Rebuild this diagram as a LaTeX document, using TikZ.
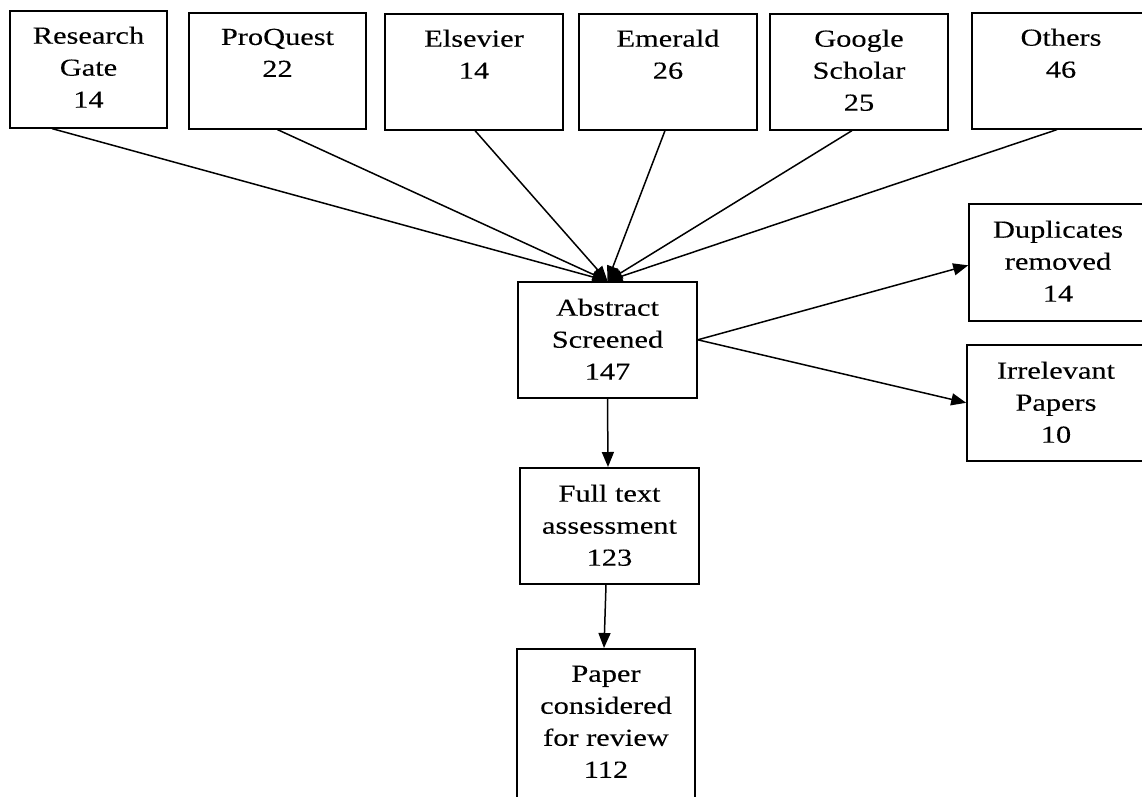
\documentclass[tikz,border=0pt]{standalone}
\usepackage{fontspec}
\setmainfont{Liberation Serif}[FakeStretch=1.24,FakeBold=0.2]
\usetikzlibrary{arrows.meta}
\begin{document}
\begin{tikzpicture}[x=1pt,y=-1pt,
  box/.style={draw, line width=1.6pt, inner sep=0pt, anchor=north, minimum width=178pt, minimum height=116pt},
  txt/.style={anchor=north, inner sep=0pt, align=center, font=\fontsize{24.5}{32}\selectfont},
  arr/.style={line width=1.5pt, -{Triangle[length=15pt,width=12pt]}}]
\useasboundingbox (0,0) rectangle (1142,796);
\clip (0,0) rectangle (1142,796);
% top row
\node[box, minimum width=157pt, minimum height=117pt] (rg) at (88.5,10) {};
\node[box, minimum width=177pt] (pq) at (277.5,12) {};
\node[box] (el) at (474,13) {};
\node[box] (em) at (668,13) {};
\node[box] (gs) at (859,13) {};
\node[box] (ot) at (1061,12) {};
% middle
\node[box, minimum width=179pt] (abs) at (607.5,281) {};
\node[box, minimum height=117pt] (dup) at (1058,203) {};
\node[box] (irr) at (1056,344) {};
\node[box, minimum width=179pt] (full) at (609.5,467) {};
\node[box, minimum height=150pt] (paper) at (606,648) {};
% texts
\node[txt] at ([yshift=-16.5pt]rg.north) {Research\\Gate\\14};
\node[txt] at ([yshift=-16.5pt]pq.north) {ProQuest\\22};
\node[txt] at ([yshift=-16.5pt]el.north) {Elsevier\\14};
\node[txt] at ([yshift=-16.5pt]em.north) {Emerald\\26};
\node[txt] at ([yshift=-16.5pt]gs.north) {Google\\Scholar\\25};
\node[txt] at ([yshift=-16.5pt]ot.north) {Others\\46};
\node[txt] at ([yshift=-17.5pt]abs.north) {Abstract\\Screened\\147};
\node[txt] at ([yshift=-17.5pt]dup.north) {Duplicates\\removed\\14};
\node[txt] at ([yshift=-17.5pt]irr.north) {Irrelevant\\Papers\\10};
\node[txt] at ([yshift=-17.5pt]full.north) {Full text\\assessment\\123};
\node[txt] at ([yshift=-17.5pt]paper.north) {Paper\\considered\\for review\\112};
% connectors
\draw[arr] ([xshift=-36.5pt]rg.south) -- (abs.north);
\draw[arr] (pq.south) -- (abs.north);
\draw[arr] ([xshift=1pt]el.south) -- (abs.north);
\draw[arr] ([xshift=-3pt]em.south) -- (abs.north);
\draw[arr] ([xshift=-7pt]gs.south) -- (abs.north);
\draw[arr] ([xshift=-4pt]ot.south) -- (abs.north);
\draw[arr] (abs.east) -- ([yshift=-3pt]dup.west);
\draw[arr] (abs.east) -- (irr.west);
\draw[arr] (abs.south) -- ([xshift=-1.5pt]full.north);
\draw[arr] ([xshift=-3.5pt]full.south) -- ([xshift=-2pt]paper.north);
\end{tikzpicture}
\end{document}
